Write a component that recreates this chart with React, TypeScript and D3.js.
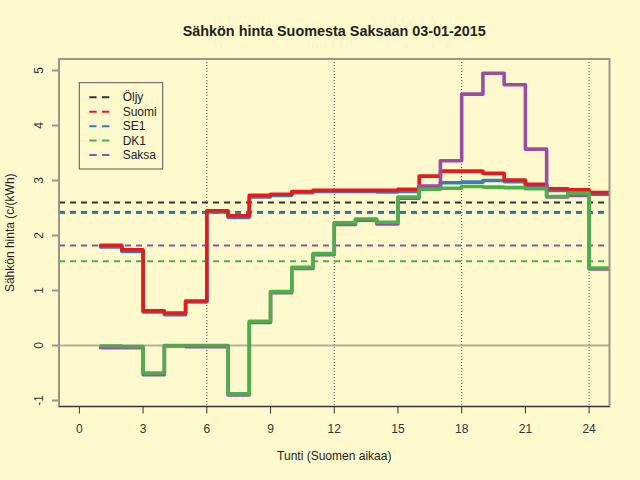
import React from "react";
import * as d3 from "d3";

// ---- data ----
const hours = d3.range(1, 25); // 1..24, each value holds from h to h+1
const suomi = [1.82, 1.74, 0.63, 0.59, 0.81, 2.45, 2.36, 2.73, 2.75, 2.8, 2.82, 2.82, 2.82, 2.82, 2.84, 3.08, 3.17, 3.17, 3.13, 3.01, 2.93, 2.85, 2.83, 2.78];
const se1 = [1.79, 1.71, 0.61, 0.56, 0.79, 2.43, 2.33, 2.7, 2.73, 2.78, 2.8, 2.8, 2.8, 2.79, 2.8, 2.88, 2.96, 2.97, 3.0, 2.98, 2.89, 2.82, 2.8, 2.75];
const dk1 = [-0.01, -0.02, -0.5, 0.0, 0.0, 0.0, -0.88, 0.44, 0.98, 1.42, 1.67, 2.23, 2.3, 2.24, 2.7, 2.84, 2.86, 2.89, 2.88, 2.87, 2.85, 2.71, 2.77, 1.41];
const saksa = [-0.04, -0.04, -0.53, -0.01, -0.02, -0.02, -0.9, 0.42, 0.96, 1.4, 1.65, 2.2, 2.28, 2.21, 2.68, 2.9, 3.36, 4.57, 4.95, 4.74, 3.57, 2.7, 2.73, 1.39];

const averageNames = ["Öljy", "Suomi", "SE1", "DK1", "Saksa"];
const averageValues = [2.6, 2.425, 2.41, 1.53, 1.82];
const averageColors = ["#333333", "#E41A1C", "#377EB8", "#4DAF4A", "#984EA3"];

const xTicks = [0, 3, 6, 9, 12, 15, 18, 21, 24];
const yTicks = [-1, 0, 1, 2, 3, 4, 5];
const vGrid = [6, 12, 18, 24];

const title = "Sähkön hinta Suomesta Saksaan 03-01-2015";
const xTitle = "Tunti (Suomen aikaa)";
const yTitle = "Sähkön hinta (c/(kWh)";

// ---- layout ----
const W = 640;
const H = 480;
const L = 59;
const R = 609.5;
const T = 59;
const B = 406.5;
const FONT = "'Liberation Sans', Arial, Helvetica, sans-serif";
const BG = "#FFFACD";

const x = d3.scaleLinear().domain([-0.96, 24.96]).range([L, R]);
const y = d3.scaleLinear().domain([-1.109, 5.209]).range([B, T]);

const stepLine = d3
  .line<[number, number]>()
  .x((d) => x(d[0]))
  .y((d) => y(d[1]))
  .curve(d3.curveStepAfter);

function stepPath(vals: number[]): string {
  const pts: [number, number][] = hours.map((h, i) => [h, vals[i]]);
  pts.push([25, vals[vals.length - 1]]);
  return stepLine(pts) || "";
}

const series = [
  { vals: se1, color: "#377EB8" },
  { vals: suomi, color: "#E41A1C" },
  { vals: saksa, color: "#984EA3" },
  { vals: dk1, color: "#4DAF4A" },
];

export default function App() {
  return (
    <svg
      width={W}
      height={H}
      style={{ position: "absolute", left: 0, top: 0 }}
      fontFamily={FONT}
    >
      <defs>
        <clipPath id="plotclip">
          <rect x={L} y={T} width={R - L} height={B - T} />
        </clipPath>
      </defs>
      <rect x={0} y={0} width={W} height={H} fill={BG} />

      {/* vertical dotted grid */}
      {vGrid.map((g) => (
        <line
          key={"g" + g}
          x1={x(g)}
          x2={x(g)}
          y1={T}
          y2={B}
          stroke="#555"
          strokeWidth={1}
          strokeDasharray="1,2"
        />
      ))}

      {/* average dashed lines */}
      {averageValues.map((v, i) => (
        <line
          key={"a" + i}
          x1={L}
          x2={R}
          y1={y(v)}
          y2={y(v)}
          stroke={averageColors[i]}
          strokeWidth={2}
          strokeDasharray="6,5"
        />
      ))}

      {/* step lines */}
      <g clipPath="url(#plotclip)">
        {series.map((s, i) => (
          <path
            key={"s" + i}
            d={stepPath(s.vals)}
            fill="none"
            stroke={s.color}
            strokeWidth={3.6}
            strokeLinejoin="round"
            strokeLinecap="round"
          />
        ))}
      </g>

      {/* zero line */}
      <line x1={L} x2={R} y1={y(0)} y2={y(0)} stroke="#808080" strokeOpacity={0.6} strokeWidth={2} />

      {/* box */}
      <rect x={L} y={T} width={R - L} height={B - T} fill="none" stroke="#9a9686" strokeWidth={2} />
      <line x1={L} x2={R} y1={B} y2={B} stroke="#333" strokeWidth={1} />

      {/* y axis */}
      {yTicks.map((t) => (
        <g key={"y" + t}>
          <line x1={L - 7} x2={L} y1={y(t)} y2={y(t)} stroke="#9a9686" strokeWidth={2} />
          <text
            transform={`translate(43,${y(t)}) rotate(-90)`}
            textAnchor="middle"
            fontSize={12}
            fill="#333"
          >
            {t}
          </text>
        </g>
      ))}

      {/* x axis */}
      {xTicks.map((t) => (
        <g key={"x" + t}>
          <line x1={x(t)} x2={x(t)} y1={B} y2={B + 7} stroke="#333" strokeWidth={1} />
          <text x={x(t)} y={432.5} textAnchor="middle" fontSize={12} fill="#333">
            {t}
          </text>
        </g>
      ))}

      {/* titles */}
      <text x={(L + R) / 2} y={36} textAnchor="middle" fontSize={14.4} fontWeight="bold" fill="#222">
        {title}
      </text>
      <text x={(L + R) / 2} y={460} textAnchor="middle" fontSize={12} fill="#222">
        {xTitle}
      </text>
      <text
        transform={`translate(13.5,${(T + B) / 2}) rotate(-90)`}
        textAnchor="middle"
        fontSize={12}
        fill="#222"
      >
        {yTitle}
      </text>

      {/* legend */}
      <rect x={79.3} y={82.7} width={83.4} height={86.3} fill={BG} stroke="#555" strokeWidth={1} />
      {averageNames.map((n, i) => {
        const yy = 97.3 + i * 14.43;
        return (
          <g key={"l" + i}>
            <line
              x1={89.3}
              x2={109.3}
              y1={yy}
              y2={yy}
              stroke={averageColors[i]}
              strokeWidth={2}
              strokeDasharray="7.3,5.4"
            />
            <text x={122.7} y={yy} dominantBaseline="central" fontSize={12} fill="#222">
              {n}
            </text>
          </g>
        );
      })}
    </svg>
  );
}
